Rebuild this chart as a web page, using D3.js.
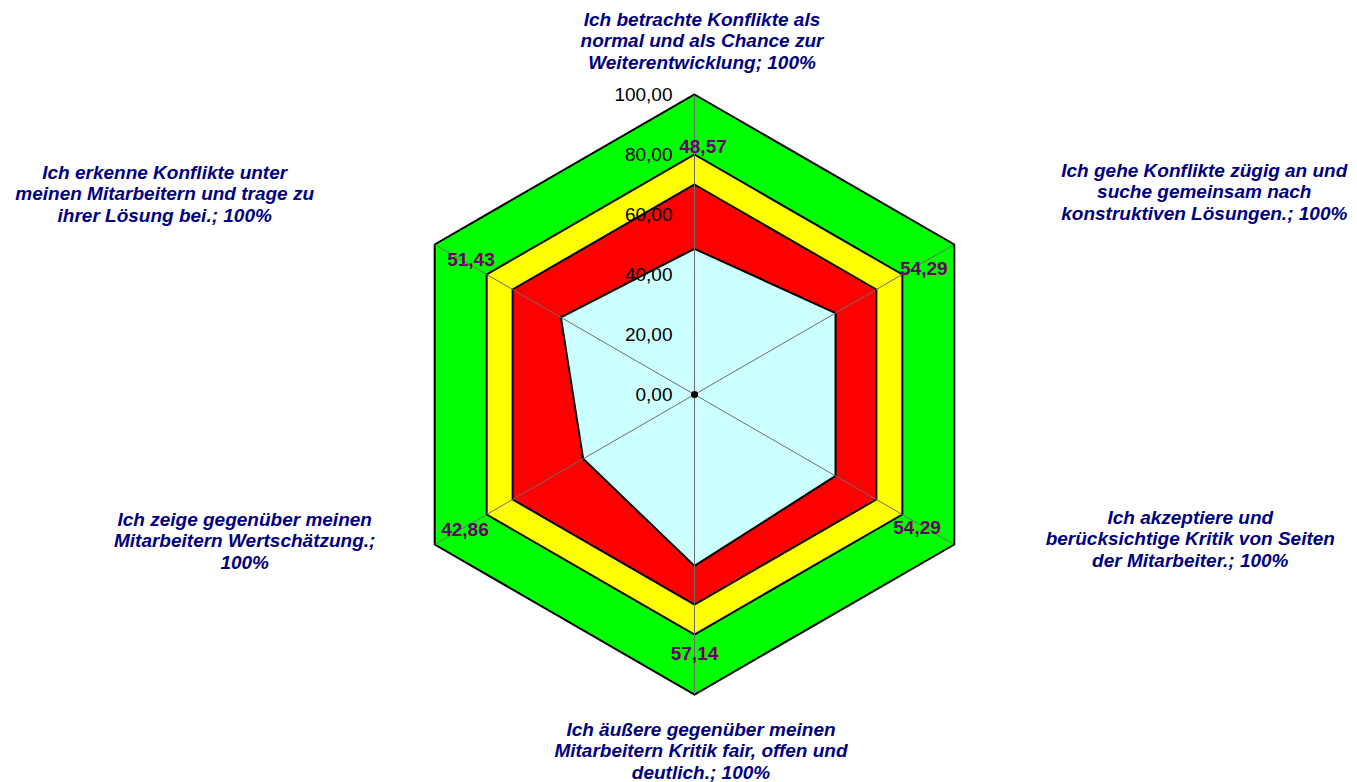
<!DOCTYPE html>
<html>
<head>
<meta charset="utf-8">
<script src="https://cdn.jsdelivr.net/npm/d3@7"></script>
<style>
  html, body { margin: 0; padding: 0; background: #ffffff; }
  svg { display: block; }
</style>
</head>
<body>
<svg id="chart" width="1357" height="782"></svg>
<script>
// Category captions, one entry per axis (clockwise from top), split into lines
const categories = [
  ["Ich betrachte Konflikte als", "normal und als Chance zur", "Weiterentwicklung; 100%"],
  ["Ich gehe Konflikte zügig an und", "suche gemeinsam nach", "konstruktiven Lösungen.; 100%"],
  ["Ich akzeptiere und", "berücksichtige Kritik von Seiten", "der Mitarbeiter.; 100%"],
  ["Ich äußere gegenüber meinen", "Mitarbeitern Kritik fair, offen und", "deutlich.; 100%"],
  ["Ich zeige gegenüber meinen", "Mitarbeitern Wertschätzung.;", "100%"],
  ["Ich erkenne Konflikte unter", "meinen Mitarbeitern und trage zu", "ihrer Lösung bei.; 100%"]
];

// Background bands (constant per axis)
const bandGreen  = [100, 100, 100, 100, 100, 100];
const bandYellow = [80, 80, 80, 80, 80, 80];
const bandRed    = [70, 70, 70, 70, 70, 70];

// Measured result per axis
const scores = [48.57, 54.29, 54.29, 57.14, 42.86, 51.43];

// Radial axis ticks
const tickValues = [0, 20, 40, 60, 80, 100];

// ---- layout ----
const cx = 694.5, cy = 394.5, R = 300;
const n = categories.length;

const r = d3.scaleLinear().domain([0, 100]).range([0, R]);
const angle = d3.scaleLinear().domain([0, n]).range([0, 2 * Math.PI]);

const svg = d3.select("#chart");
const g = svg.append("g").attr("transform", `translate(${cx},${cy})`);

const radial = d3.lineRadial()
  .angle((d, i) => angle(i))
  .radius(d => r(d))
  .curve(d3.curveLinearClosed);

const point = (i, v) => {
  const a = angle(i);
  return [Math.sin(a) * r(v), -Math.cos(a) * r(v)];
};

// bands
[[bandGreen, "#00ff00"], [bandYellow, "#ffff00"], [bandRed, "#ff0000"]].forEach(([vals, col]) => {
  g.append("path")
    .attr("d", radial(vals))
    .attr("fill", col)
    .attr("stroke", "#000")
    .attr("stroke-width", 2)
    .attr("stroke-linejoin", "miter");
});

// score polygon
g.append("path")
  .attr("d", radial(scores))
  .attr("fill", "#ccffff")
  .attr("stroke", "#000")
  .attr("stroke-width", 2)
  .attr("stroke-linejoin", "miter");

// spokes
g.selectAll("line.spoke")
  .data(d3.range(n))
  .join("line")
  .attr("class", "spoke")
  .attr("x1", 0).attr("y1", 0)
  .attr("x2", i => point(i, 100)[0])
  .attr("y2", i => point(i, 100)[1])
  .attr("stroke", "#6e6e6e")
  .attr("stroke-width", 1);

// centre marker
g.append("circle").attr("r", 3.5).attr("fill", "#000");

// tick labels along the vertical axis
const fmt = v => d3.format(".2f")(v).replace(".", ",");
g.selectAll("text.tick")
  .data(tickValues)
  .join("text")
  .attr("class", "tick")
  .attr("x", -22)
  .attr("y", d => -r(d))
  .attr("dy", "0.36em")
  .attr("text-anchor", "end")
  .attr("font-family", "Liberation Sans, Arial, sans-serif")
  .attr("font-size", 19)
  .attr("fill", "#000")
  .text(fmt);

// value labels placed beside the 80 ring vertex
const valueNudge = [[8.5, -1.5], [21.5, 0.5], [14.7, 19.5], [0, 25.5], [-21.7, 21.5], [-15.7, -8.5]];
g.selectAll("text.value")
  .data(scores)
  .join("text")
  .attr("class", "value")
  .attr("x", (d, i) => point(i, 80)[0] + valueNudge[i][0])
  .attr("y", (d, i) => point(i, 80)[1] + valueNudge[i][1])
  .attr("text-anchor", "middle")
  .attr("font-family", "Liberation Sans, Arial, sans-serif")
  .attr("font-weight", "bold")
  .attr("font-size", 19)
  .attr("fill", "#660066")
  .text(d => d.toFixed(2).replace(".", ","));

// category captions, offset from the outer vertex
const captionNudge = [[7.5, -47.5], [250, -46.5], [236, 0.5], [6.5, 62.5], [-190, 2.5], [-270, -44.5]];
const lineH = 21.5;
categories.forEach((lines, i) => {
  const [vx, vy] = point(i, 100);
  const x = vx + captionNudge[i][0];
  const y = vy + captionNudge[i][1];
  const t = g.append("text")
    .attr("text-anchor", "middle")
    .attr("font-family", "Liberation Sans, Arial, sans-serif")
    .attr("font-weight", "bold")
    .attr("font-style", "italic")
    .attr("font-size", 19)
    .attr("fill", "#000080");
  lines.forEach((ln, k) => {
    t.append("tspan")
      .attr("x", x)
      .attr("y", y + (k - 1) * lineH)
      .text(ln);
  });
});
</script>
</body>
</html>
